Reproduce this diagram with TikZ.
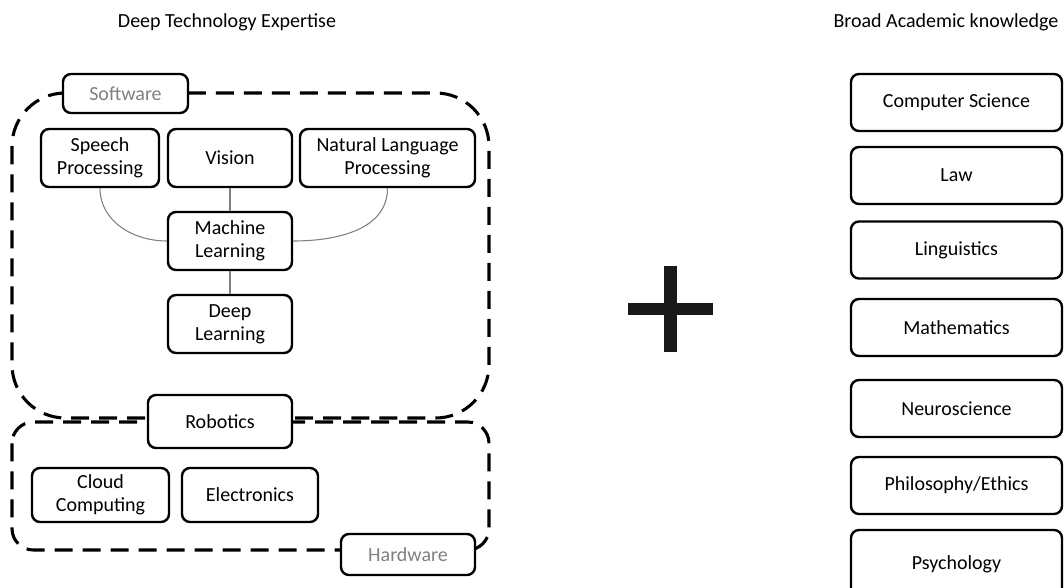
\documentclass[tikz,border=0pt]{standalone}
\usepackage{fontspec}
\setmainfont{Carlito}
\begin{document}
\begin{tikzpicture}[x=0.75pt,y=-0.75pt,
  txt/.style={font=\fontsize{15}{17.5}\selectfont},
  box/.style={txt, draw=black, line width=1.8pt, rounded corners=6pt, fill=white, inner sep=0pt, align=center},
  sz/.style 2 args={minimum width=#1*0.75pt, minimum height=#2*0.75pt},
  tag/.style={box, text=black!50},
  group/.style={draw=black, line width=2.3pt, dash pattern=on 13.5pt off 7.5pt},
  link/.style={draw=black!50, line width=0.8pt}]
\useasboundingbox (0,0) rectangle (1064,588);

% titles
\node[txt] (t1) at (227,22) {Deep Technology Expertise};
\node[txt, anchor=east] (t2) at (1063,22) {Broad Academic knowledge};

% groups
\draw[group, rounded corners=40pt] (12,93) rectangle (489,418);
\draw[group, rounded corners=16pt] (12,422) rectangle (489,550);

% software
\node[tag, sz={125}{39}] (sw) at (125.5,93.5) {Software};
\node[box, sz={118}{58}] (sp) at (100,158) {Speech\\Processing};
\node[box, sz={124}{58}] (vi) at (230,158) {Vision};
\node[box, sz={175}{58}] (nlp) at (387.5,158) {Natural Language\\Processing};
\node[box, sz={124}{58}] (ml) at (230,241) {Machine\\Learning};
\node[box, sz={124}{58}] (dl) at (230,324) {Deep\\Learning};

\draw[link] (sp.south) to[out=-90,in=180] (ml.west);
\draw[link] (nlp.south) to[out=-90,in=0] (ml.east);
\draw[link] (vi.south) -- (ml.north);
\draw[link] (ml.south) -- (dl.north);

% hardware
\node[box, sz={144}{53}] (rob) at (220,421.5) {Robotics};
\node[box, sz={137}{54}] (cc) at (100.5,495) {Cloud\\Computing};
\node[box, sz={136}{54}] (el) at (250,495) {Electronics};
\node[tag, sz={134}{41}] (hw) at (408,554.5) {Hardware};

% plus
\fill[black!90] (664,266) rectangle (677,352);
\fill[black!90] (628,303) rectangle (713,315);

% academic
\node[box, sz={211}{57}] (cs) at (956.5,102.5) {Computer Science};
\node[box, sz={211}{57}] (law) at (956.5,175.5) {Law};
\node[box, sz={211}{57}] (lin) at (956.5,250) {Linguistics};
\node[box, sz={211}{57}] (math) at (956.5,327.5) {Mathematics};
\node[box, sz={211}{57}] (neu) at (956.5,408.5) {Neuroscience};
\node[box, sz={211}{57}] (phi) at (956.5,485.5) {Philosophy/Ethics};
\node[box, sz={211}{68}] (psy) at (956.5,564) {Psychology};
\end{tikzpicture}
\end{document}
